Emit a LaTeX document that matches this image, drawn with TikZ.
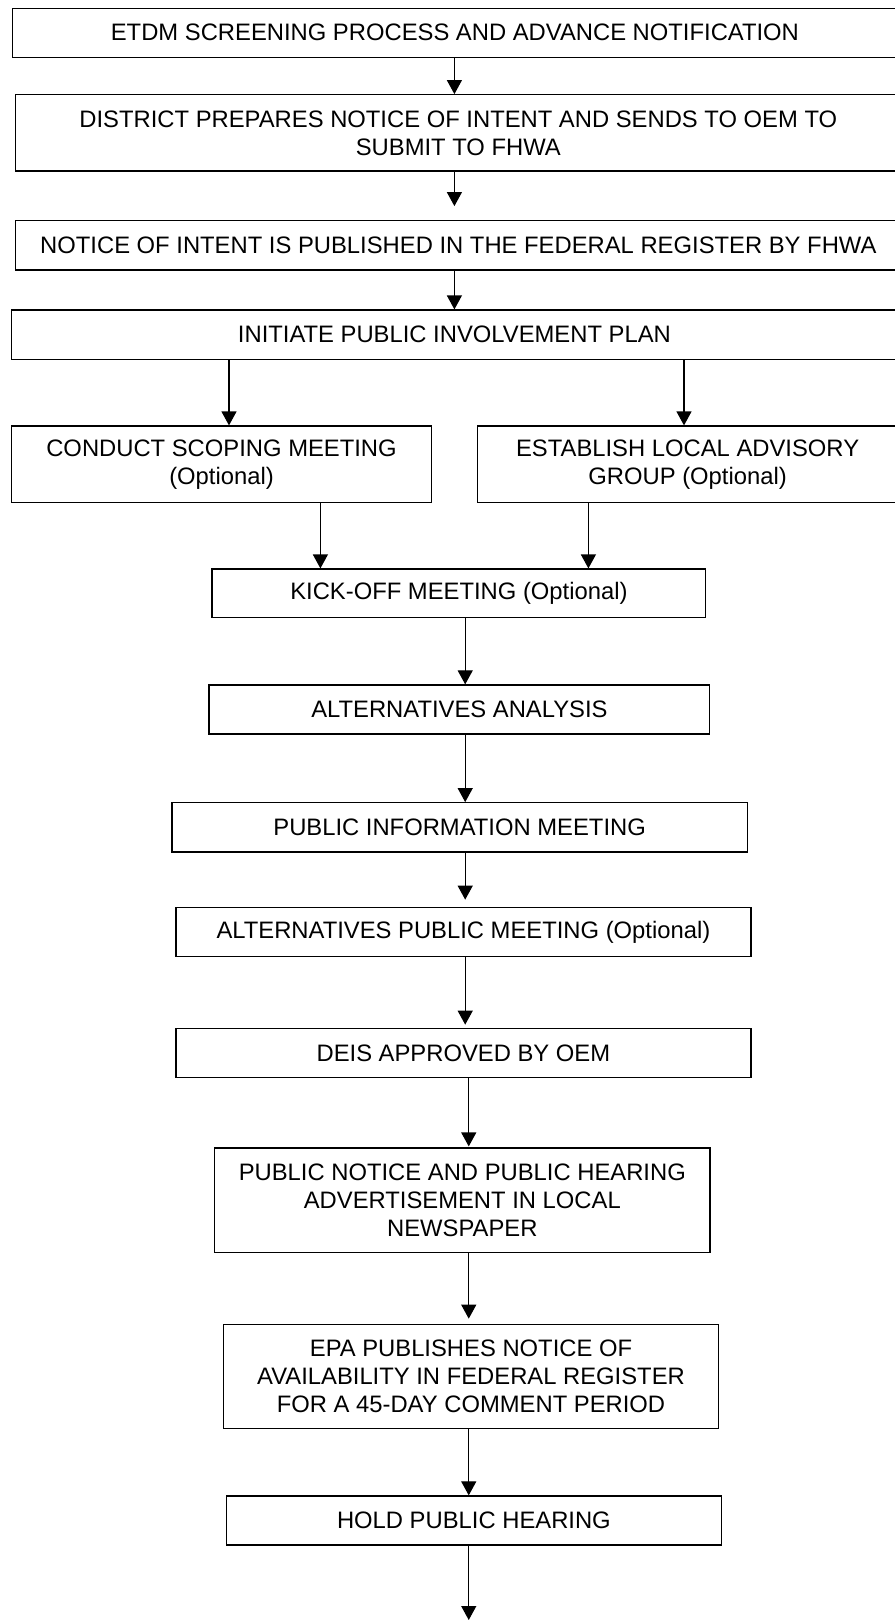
\documentclass[tikz,border=0pt]{standalone}
\usepackage{fontspec}
\setmainfont{Liberation Sans}
\usetikzlibrary{arrows.meta}
\tikzset{
  box/.style={draw=black, line width=1.3pt, rectangle, inner sep=0pt, align=center,
    font=\fontsize{23.8}{28}\selectfont},
  arr/.style={line width=1.2pt, -{Triangle[length=14pt,width=15pt]}}
}
\begin{document}
\begin{tikzpicture}[x=1pt,y=-1pt]
\useasboundingbox (0,0) rectangle (894,1621);
% boxes
\node[box, minimum width=884.3pt, minimum height=49pt] (b1) at (454.9,32.8) {ETDM SCREENING PROCESS AND ADVANCE NOTIFICATION};
\node[box, minimum width=885.3pt, minimum height=76.3pt] (b2) at (458.3,132.9) {DISTRICT PREPARES NOTICE OF INTENT AND SENDS TO OEM TO\\SUBMIT TO FHWA};
\node[box, minimum width=885.3pt, minimum height=49.3pt] (b3) at (458.3,245.4) {NOTICE OF INTENT IS PUBLISHED IN THE FEDERAL REGISTER BY FHWA};
\node[box, minimum width=885.3pt, minimum height=49.3pt] (b4) at (454.4,334.7) {INITIATE PUBLIC INVOLVEMENT PLAN};
\node[box, minimum width=420pt, minimum height=76.5pt] (cs) at (221.5,464.3) {CONDUCT SCOPING MEETING\\(Optional)};
\node[box, minimum width=419.6pt, minimum height=76.5pt] (la) at (687.6,464.3) {ESTABLISH LOCAL ADVISORY\\GROUP (Optional)};
\node[box, minimum width=493.8pt, minimum height=48.7pt] (ko) at (458.9,593.4) {KICK-OFF MEETING (Optional)};
\node[box, minimum width=500.8pt, minimum height=49pt] (aa) at (459.4,709.5) {ALTERNATIVES ANALYSIS};
\node[box, minimum width=575.4pt, minimum height=49.3pt] (pi) at (459.6,827.4) {PUBLIC INFORMATION MEETING};
\node[box, minimum width=575pt, minimum height=49.4pt] (ap) at (463.4,932) {ALTERNATIVES PUBLIC MEETING (Optional)};
\node[box, minimum width=575pt, minimum height=49pt] (de) at (463.4,1052.8) {DEIS APPROVED BY OEM};
\node[box, minimum width=495.1pt, minimum height=104.3pt] (pn) at (462.3,1200.2) {PUBLIC NOTICE AND PUBLIC HEARING\\ADVERTISEMENT IN LOCAL\\NEWSPAPER};
\node[box, minimum width=494.6pt, minimum height=104pt] (ep) at (471,1376.3) {EPA PUBLISHES NOTICE OF\\AVAILABILITY IN FEDERAL REGISTER\\FOR A 45-DAY COMMENT PERIOD};
\node[box, minimum width=495.1pt, minimum height=49pt] (hp) at (473.9,1520.5) {HOLD PUBLIC HEARING};
% column coordinates
\coordinate (cA) at (454.4,0);
\coordinate (cL) at (229,0);
\coordinate (cR) at (684,0);
\coordinate (cL2) at (320.4,0);
\coordinate (cR2) at (588.4,0);
\coordinate (cB) at (465.2,0);
\coordinate (cC) at (468.75,0);
\coordinate (endpt) at (468.75,1620);
% connectors
\draw[arr] (b1.south -| cA) -- (b2.north -| cA);
\draw[arr, shorten >=14pt] (b2.south -| cA) -- (b3.north -| cA);
\draw[arr] (b3.south -| cA) -- (b4.north -| cA);
\draw[arr] (b4.south -| cL) -- (cs.north -| cL);
\draw[arr] (b4.south -| cR) -- (la.north -| cR);
\draw[arr] (cs.south -| cL2) -- (ko.north -| cL2);
\draw[arr] (la.south -| cR2) -- (ko.north -| cR2);
\draw[arr] (ko.south -| cB) -- (aa.north -| cB);
\draw[arr] (aa.south -| cB) -- (pi.north -| cB);
\draw[arr, shorten >=7pt] (pi.south -| cB) -- (ap.north -| cB);
\draw[arr, shorten >=3pt] (ap.south -| cB) -- (de.north -| cB);
\draw[arr, shorten >=1pt] (de.south -| cC) -- (pn.north -| cC);
\draw[arr, shorten >=5pt] (pn.south -| cC) -- (ep.north -| cC);
\draw[arr] (ep.south -| cC) -- (hp.north -| cC);
\draw[arr] (hp.south -| cC) -- (endpt);
\end{tikzpicture}
\end{document}
